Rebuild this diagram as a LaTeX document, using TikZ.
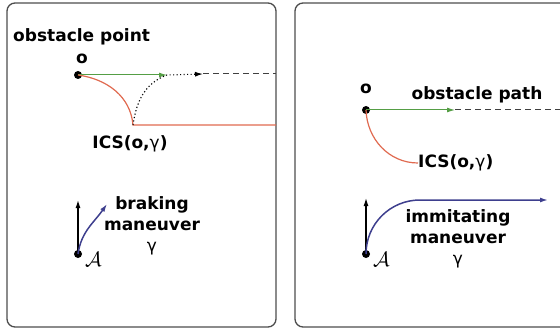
\documentclass[tikz,border=0pt]{standalone}
\usepackage{fontspec}
\setmainfont{DejaVu Sans}
\usetikzlibrary{positioning,arrows.meta}
\definecolor{pathgreen}{HTML}{559E45}
\definecolor{icsred}{HTML}{E06A50}
\definecolor{manblue}{HTML}{3E3F8E}
\definecolor{framegray}{HTML}{4D4D4D}

\begin{document}
\begin{tikzpicture}[x=1pt, y=1pt,
  font=\fontsize{17}{21}\selectfont\bfseries,
  panel/.style={draw=framegray, line width=1.3pt, rounded corners=8pt},
  dot/.style={circle, fill=black, inner sep=0pt, minimum size=8pt},
  lbl/.style={align=center, inner sep=0pt},
  agent/.style={inner sep=0pt, font=\fontsize{20}{24}\selectfont},
  ar/.style={-{Latex[length=8pt,width=5pt]}},
  obst/.style={ar, pathgreen, line width=1pt},
  ics/.style={icsred, line width=1.2pt},
  man/.style={ar, manblue, line width=1.5pt},
  vel/.style={ar, black, line width=1.2pt},
  future/.style={dash pattern=on 6pt off 4pt, line width=1pt, black!75}]
\clip (0,0) rectangle (560,330);
\draw[panel] (7,3) rectangle (276,327);
\draw[panel] (295,3) rectangle (600,327);
% left: obstacle point
\node[lbl, anchor=west] (optxt) at (13,293) {obstacle point};
\node[lbl] (oltxt) at (82,271) {o};
\node[dot] (oL) at (78,255) {};
\coordinate (gL) at (167,255);
\coordinate (bL) at (203,256);
\coordinate (eL) at (276,256);
\coordinate (cL) at (133,205);
\coordinate (rL) at (276,205);
\draw[obst] (oL.center) -- (gL);
\draw[ics] (oL.center) to[out=-8,in=95] (cL) -- (rL);
\draw[ar, dash pattern=on 1.2pt off 2.3pt, line width=1.1pt] (cL) to[out=82,in=200] (gL) -- (bL);
\draw[future] (bL) -- (eL);
\node[lbl] (icsL) at (130,186) {ICS(o,{\mdseries γ})};
\node[dot] (AL) at (78,76) {};
\node[agent, anchor=west] (aLtxt) at (85,71) {$\mathcal{A}$};
\coordinate (vL) at (78,130);
\coordinate (mL) at (107,126);
\draw[vel] (AL.center) -- (vL);
\draw[man] (AL.center) to[out=82,in=235] (mL);
\node[lbl] (brk) at (152,104) {braking\\maneuver\\{\mdseries γ}};
% right: obstacle path
\node[lbl] (ortxt) at (366,241) {o};
\node[lbl] (optr) at (477,235) {obstacle path};
\node[dot] (oR) at (366,220) {};
\coordinate (gR) at (455,220);
\coordinate (eR) at (565,220);
\draw[obst] (oR.center) -- (gR);
\draw[future] (gR) -- (eR);
\node[lbl, anchor=west] (icsR) at (418,167) {ICS(o,{\mdseries γ})};
\draw[ics] (oR.center) to[out=-88,in=180] (icsR.west);
\node[dot] (AR) at (366,76) {};
\node[agent, anchor=west] (aRtxt) at (373,71) {$\mathcal{A}$};
\coordinate (vR) at (366,132);
\coordinate (mR) at (420,130);
\coordinate (mRe) at (548,130);
\draw[vel] (AR.center) -- (vR);
\draw[man] (AR.center) to[out=90,in=180] (mR) -- (mRe);
\node[lbl] (imm) at (458,91) {immitating\\maneuver\\{\mdseries γ}};
\end{tikzpicture}
\end{document}
